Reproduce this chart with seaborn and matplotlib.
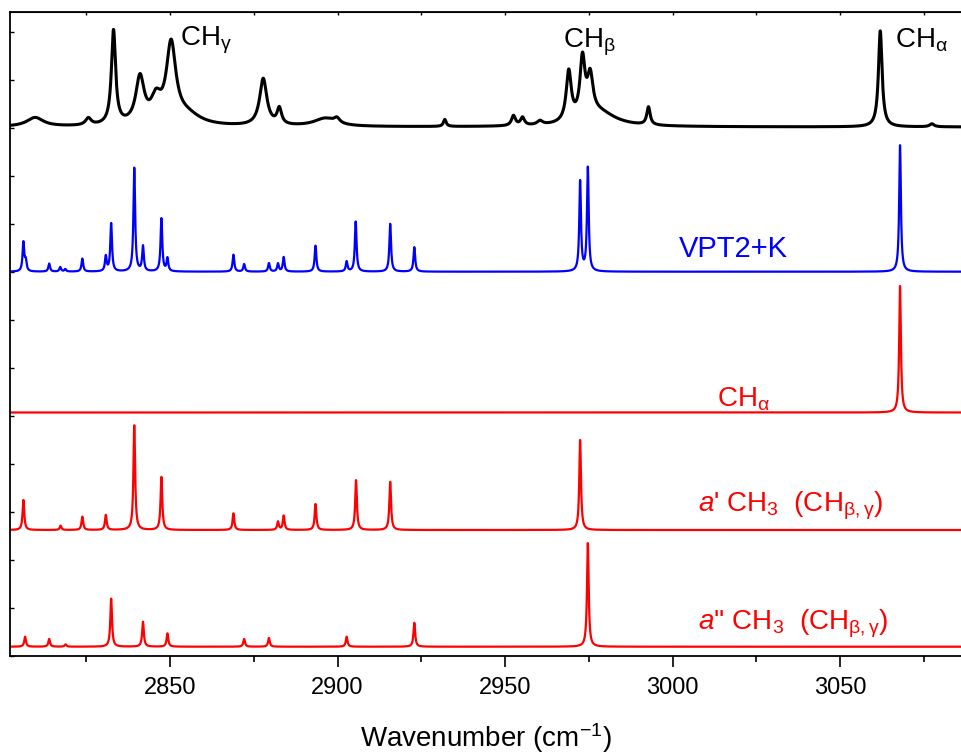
import numpy as np
import pandas as pd
import matplotlib
matplotlib.use('Agg')
import matplotlib.pyplot as plt
from matplotlib.ticker import MultipleLocator, NullFormatter
import seaborn as sns

# experimental spectrum: peak centre, height, half width (cm-1)
exp_pos = [2809.7, 2825.6, 2833.1, 2841.0, 2845.8, 2850.3, 2855.0, 2877.8, 2882.6,
           2896.3, 2899.8, 2932.0, 2952.5, 2955.2, 2960.4, 2969.0, 2973.1, 2975.4,
           2978.0, 2992.8, 3062.0, 3077.4]
exp_height = [9, 7, 94, 46, 22, 78, 10, 47, 16,
              8, 5, 7, 10, 8, 4, 50, 58, 38,
              14, 18, 96, 3]
exp_hwhm = [3.0, 1.0, 0.75, 1.5, 1.8, 1.7, 5.0, 1.3, 0.8,
            4.0, 1.0, 0.5, 0.7, 0.7, 1.0, 0.9, 0.9, 1.0,
            6.0, 0.6, 0.65, 0.8]

# VPT2+K sticks
vpt_pos = [2806.2, 2806.9, 2813.9, 2817.2, 2818.7, 2823.8, 2830.8, 2832.4, 2839.3,
           2841.9, 2847.4, 2849.2, 2868.9, 2872.1, 2879.5, 2882.2, 2883.9, 2893.4,
           2902.7, 2905.4, 2915.7, 2922.9, 2972.4, 2974.7, 3067.9]
vpt_int = [29, 10, 8, 4.5, 2.5, 13, 15, 48, 104,
           25, 53, 13, 17, 7.5, 8.5, 8, 14.5, 26,
           10, 50, 48, 24.5, 90, 104, 127]

# CH alpha sticks
ca_pos = [3067.9]
ca_int = [127]

# a' CH3 sticks
ap_pos = [2806.2, 2817.3, 2823.8, 2830.8, 2839.3, 2847.4, 2868.9, 2882.2, 2883.9,
          2893.4, 2905.5, 2915.7, 2972.4]
ap_int = [30, 4.3, 13.3, 15, 105, 53, 16.7, 8.3, 14.3,
          26, 50, 48.3, 90]

# a'' CH3 sticks
app_pos = [2806.7, 2813.9, 2818.8, 2832.4, 2841.9, 2849.2, 2872.1, 2879.5, 2902.7,
           2922.9, 2974.7]
app_int = [10, 7.7, 2.3, 48, 25, 13.3, 7.7, 8.7, 10, 24, 104]

xmin, xmax = 2802.2, 3086.1
grid = np.arange(xmin, xmax, 0.04)


def lorentz(pos, amp, hw):
    hw = np.broadcast_to(hw, np.shape(pos))
    y = np.zeros_like(grid)
    for p, a, w in zip(pos, amp, hw):
        y += a * w**2 / ((grid - p)**2 + w**2)
    return y


sim_hw = 0.3
traces = [
    ('exp', lorentz(exp_pos, exp_height, exp_hwhm) + 529, 'black', 2.2),
    ('vpt', lorentz(vpt_pos, vpt_int, sim_hw) + 384.3, '#0000ff', 1.6),
    ('ca', lorentz(ca_pos, ca_int, sim_hw) + 243.5, '#ff0000', 1.6),
    ('ap', lorentz(ap_pos, ap_int, sim_hw) + 126, '#ff0000', 1.6),
    ('app', lorentz(app_pos, app_int, sim_hw) + 9.3, '#ff0000', 1.6),
]

sns.set_style('ticks')
plt.rcParams['font.family'] = ['Liberation Sans', 'DejaVu Sans']
plt.rcParams['mathtext.fontset'] = 'custom'
plt.rcParams['mathtext.rm'] = 'Liberation Sans'
plt.rcParams['mathtext.it'] = 'Liberation Sans:italic'
plt.rcParams['mathtext.bf'] = 'Liberation Sans:bold'
plt.rcParams['text.color'] = 'black'
plt.rcParams['axes.labelcolor'] = 'black'
plt.rcParams['xtick.color'] = 'black'
plt.rcParams['ytick.color'] = 'black'
plt.rcParams['axes.edgecolor'] = 'black'

fig = plt.figure(figsize=(9.61, 7.55), dpi=100)
ax = fig.add_axes([10 / 961, 99 / 755, 951 / 961, 644 / 755])

for name, y, col, lw in traces:
    df = pd.DataFrame({'x': grid, 'y': y})
    sns.lineplot(data=df, x='x', y='y', color=col, lw=lw, ax=ax, estimator=None, sort=False)

ax.set_xlim(xmin, xmax)
ax.set_ylim(0, 644)
ax.xaxis.set_major_locator(MultipleLocator(50))
ax.xaxis.set_minor_locator(MultipleLocator(25))
ax.yaxis.set_major_locator(MultipleLocator(48))
ax.yaxis.set_major_formatter(NullFormatter())
ax.tick_params(axis='x', which='major', direction='out', length=8, width=1.2, labelsize=17, pad=7)
ax.tick_params(axis='x', which='minor', direction='out', length=4, width=1.2)
ax.tick_params(axis='y', which='major', direction='in', length=3, width=1)
ax.spines['right'].set_visible(False)
for s in ['left', 'top', 'bottom']:
    ax.spines[s].set_linewidth(1.3)
ax.set_xlabel('Wavenumber (cm$^{-1}$)', fontsize=20, labelpad=16)
ax.set_ylabel('')

# short ticks along the top frame
top = ax.secondary_xaxis('top')
top.xaxis.set_major_locator(MultipleLocator(25))
top.tick_params(direction='in', length=2, width=1, labeltop=False)

fs = 20
ax.text(2853.0, 611, r'CH$_{\mathrm{\gamma}}$', fontsize=fs, color='black', va='baseline')
ax.text(2967.2, 609, r'CH$_{\mathrm{\beta}}$', fontsize=fs, color='black', va='baseline')
ax.text(3066.4, 609, r'CH$_{\mathrm{\alpha}}$', fontsize=fs, color='black', va='baseline')
ax.text(3001.9, 399.3, 'VPT2+K', fontsize=21, color='#0000ff', va='baseline')
ax.text(3013.3, 250, r'CH$_{\mathrm{\alpha}}$', fontsize=fs, color='#ff0000', va='baseline')
ax.text(3007.6, 144.3, r"$a$' CH$_3$  (CH$_{\mathrm{\beta,\gamma}}$)", fontsize=fs, color='#ff0000',
        va='baseline')
ax.text(3007.6, 26, r"$a$'' CH$_3$  (CH$_{\mathrm{\beta,\gamma}}$)", fontsize=fs, color='#ff0000',
        va='baseline')

plt.savefig('out.png', dpi=100)
